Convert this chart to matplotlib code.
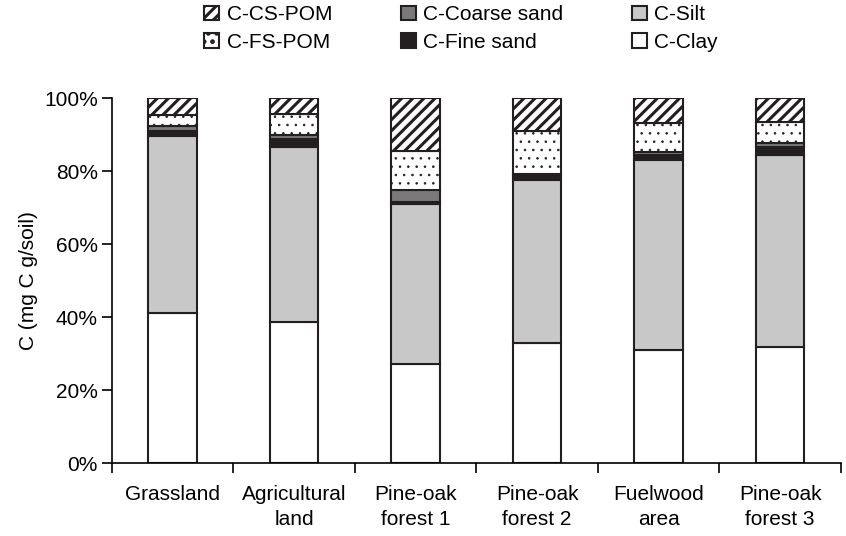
import numpy as np
import matplotlib.pyplot as plt
from matplotlib.ticker import PercentFormatter

# sites
sites = ['Grassland', 'Agricultural\nland', 'Pine-oak\nforest 1',
         'Pine-oak\nforest 2', 'Fuelwood\narea', 'Pine-oak\nforest 3']

# carbon fractions (% of total)
c_clay = [41.0, 38.6, 27.1, 32.9, 31.0, 31.8]
c_silt = [48.5, 47.9, 43.9, 44.6, 52.0, 52.6]
c_fine_sand = [1.5, 2.3, 0.6, 1.2, 1.4, 2.1]
c_coarse_sand = [1.3, 1.2, 3.2, 0.5, 0.9, 1.1]
c_fs_pom = [3.0, 5.6, 10.7, 11.8, 7.8, 5.9]
c_cs_pom = [4.7, 4.4, 14.5, 9.0, 6.9, 6.5]

plt.rcParams['font.family'] = ['Liberation Sans', 'DejaVu Sans']

fs = 15
fig = plt.figure(figsize=(8.46, 5.36), dpi=100)
ax = fig.add_axes([0.132, 0.136, 0.862, 0.681])

x = np.arange(len(sites))
w = 0.4
# values, label, colour, hatch, hatch line width
series = [
    (c_clay, 'C-Clay', 'white', '', 1.0),
    (c_silt, 'C-Silt', '#c8c8c8', '', 1.0),
    (c_fine_sand, 'C-Fine sand', '#231f20', '', 1.0),
    (c_coarse_sand, 'C-Coarse sand', '#7a7a7a', '', 1.0),
    (c_fs_pom, 'C-FS-POM', 'white', '..', 0.6),
    (c_cs_pom, 'C-CS-POM', 'white', '///', 2.2),
]
bottom = np.zeros(len(sites))
bars = {}
for vals, name, col, hatch, hlw in series:
    plt.rcParams['hatch.linewidth'] = hlw
    b = ax.bar(x, vals, w, bottom=bottom, color=col, edgecolor='#231f20',
               linewidth=1.5, hatch=hatch, label=name)
    for p in b:
        if hasattr(p, 'set_hatch_linewidth'):
            p.set_hatch_linewidth(hlw)
    bars[name] = b
    bottom += np.array(vals)

ax.set_xlim(-0.5, len(sites) - 0.5)
ax.set_ylim(0, 100)
ax.set_yticks(np.arange(0, 101, 20))
ax.yaxis.set_major_formatter(PercentFormatter(decimals=0))
ax.set_xticks(x)
ax.set_xticklabels(sites, fontsize=fs, linespacing=1.4)
ax.tick_params(axis='x', length=0, pad=16)
ax.set_xticks(np.arange(-0.5, len(sites), 1), minor=True)
ax.tick_params(axis='x', which='minor', length=7, width=1.2, direction='out')
ax.tick_params(axis='y', labelsize=fs, length=7, width=1.2, pad=3)
ax.set_ylabel('C (mg C g/soil)', fontsize=fs, labelpad=4)
for s in ['top', 'right']:
    ax.spines[s].set_visible(False)
for s in ['left', 'bottom']:
    ax.spines[s].set_linewidth(1.2)

order = ['C-CS-POM', 'C-FS-POM', 'C-Coarse sand', 'C-Fine sand', 'C-Silt', 'C-Clay']
leg = fig.legend([bars[n] for n in order], order, ncol=3, loc='upper center',
                 bbox_to_anchor=(0.545, 1.025), frameon=False, fontsize=fs,
                 handlelength=0.72, handleheight=0.72, columnspacing=3.3,
                 handletextpad=0.35, labelspacing=0.4)

fig.savefig('out.png', dpi=100)
